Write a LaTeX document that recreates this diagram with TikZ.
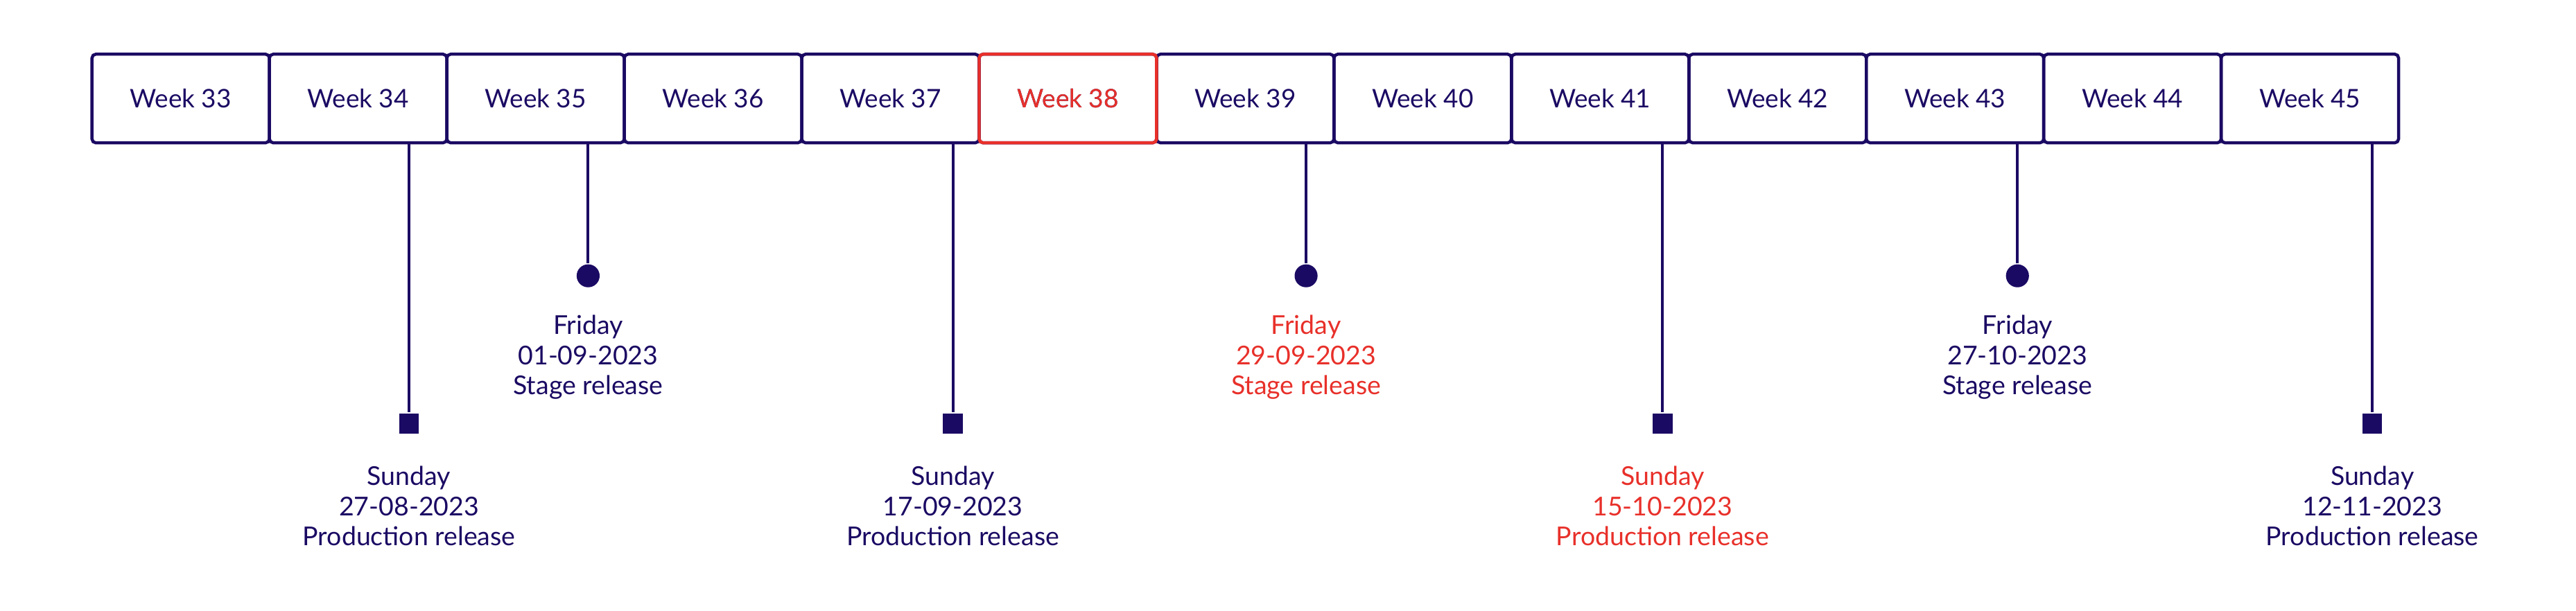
\documentclass[tikz,border=0pt]{standalone}
\usepackage{fontspec}
\setmainfont{Lato}
\usetikzlibrary{positioning}
\definecolor{navy}{HTML}{1B0A63}
\definecolor{alert}{HTML}{E8302A}
\tikzset{
        % week boxes
        weekbox/.style={draw=navy, text=navy, line width=1.6pt, rounded corners=2pt, minimum width=3.24cm, minimum height=1.62cm, inner sep=0pt, font=\fontsize{13.3}{15}\selectfont},
        % stage and production markers
        stagemark/.style={circle, fill=navy, minimum size=0.42cm, inner sep=0pt},
        prodmark/.style={rectangle, fill=navy, minimum size=0.36cm, inner sep=0pt},
        % release labels
        relinfo/.style={align=center, anchor=north, inner sep=0pt, font=\fontsize{13.5}{15.8}\selectfont}
}
\begin{document}
\begin{tikzpicture}[x=0.03cm, y=-0.03cm, line width=1.4pt]
    \useasboundingbox (0,0) rectangle (1568,372);
    % weeks
    \foreach \w [count=\i from 0] in {33,...,45}
        \node[weekbox] (w\w) at (110+108*\i, 60) {Week \w};
    \node[weekbox, draw=alert, text=alert] at (w38) {Week 38};
    % releases
    \foreach \n/\x/\w/\mk/\my/\ty/\col/\day/\date/\what in {
        1/249/34/prodmark/258/283/navy/Sunday/27-08-2023/Production release,
        2/358/35/stagemark/168/191/navy/Friday/01-09-2023/Stage release,
        3/580/37/prodmark/258/283/navy/Sunday/17-09-2023/Production release,
        4/795/39/stagemark/168/191/alert/Friday/29-09-2023/Stage release,
        5/1012/41/prodmark/258/283/alert/Sunday/15-10-2023/Production release,
        6/1228/43/stagemark/168/191/navy/Friday/27-10-2023/Stage release,
        7/1444/45/prodmark/258/283/navy/Sunday/12-11-2023/Production release}
    {
        \node[\mk] (m\n) at (\x, \my) {};
        \draw[navy] (m\n |- w\w.south) -- (m\n);
        \node[relinfo, text=\col] (l\n) at (\x, \ty) {\day\\\date\\\what};
    }
\end{tikzpicture}
\end{document}
